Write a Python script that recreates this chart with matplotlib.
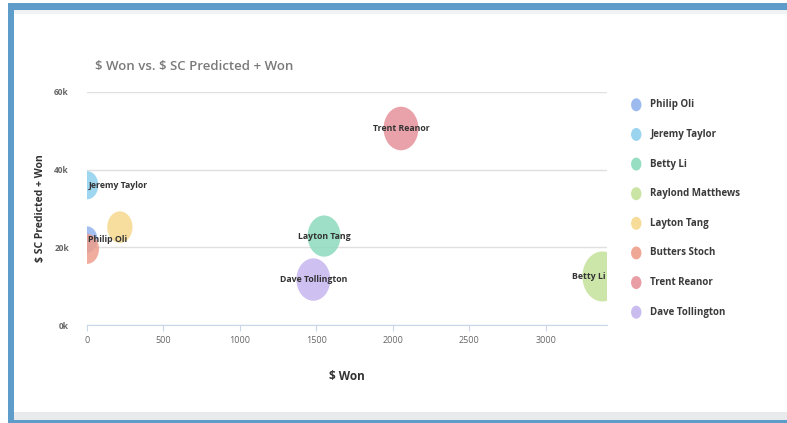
import matplotlib
matplotlib.use('Agg')
import matplotlib.pyplot as plt
import matplotlib.patches as mpatches
from matplotlib.path import Path
from matplotlib.transforms import Affine2D
import numpy as np

# data
names = ['Philip Oli', 'Jeremy Taylor', 'Betty Li', 'Raylond Matthews',
         'Layton Tang', 'Butters Stoch', 'Trent Reanor', 'Dave Tollington']
won = [0, 0, 1550, 3370, 215, 0, 2053, 1480]
predicted_won = [22000, 36000, 22900, 12500, 25200, 19600, 50600, 11700]
deal_size = [7, 8, 17, 25, 10, 9, 19, 18]
# the data labels as they appear on the bubbles
point_labels = ['Philip Oli', 'Jeremy Taylor', 'Layton Tang', 'Betty Li',
                '', '', 'Trent Reanor', 'Dave Tollington']
colors = ['#93b3ee', '#8fd0ee', '#8cdbbd', '#c4e199',
          '#f6d98d', '#ee9e8b', '#e7929b', '#c6b5ef']

x_ticks = [0, 500, 1000, 1500, 2000, 2500, 3000]
y_ticks = [0, 20000, 40000, 60000]
y_tick_labels = ['0k', '20k', '40k', '60k']

plt.rcParams['font.family'] = ['Open Sans', 'DejaVu Sans']

W, H = 787, 423
fig = plt.figure(figsize=(W / 100, H / 100), dpi=100)


def px_rect(x0, y0, x1, y1, color):
    # rectangle given in pixel coords measured from the top left
    fig.patches.append(mpatches.Rectangle((x0 / W, 1 - y1 / H), (x1 - x0) / W, (y1 - y0) / H,
                                          transform=fig.transFigure, color=color, lw=0, zorder=0))


# screenshot frame
px_rect(8, 3, W, 10, '#5e9cc9')
px_rect(14, 10, W, 14, '#f0f2f4')
px_rect(8, 3, 14, H, '#5e9cc9')
px_rect(14, 412, W, 420, '#e8eaec')
px_rect(8, 420, W, H, '#5e9cc9')

ax = fig.add_axes([87 / W, 1 - 325 / H, 520 / W, 233 / H])
ax.set_facecolor('none')

# vertically stretched ellipse marker
circle = Path.unit_circle()
ellipse = Path(Affine2D().scale(0.8, 1.0).transform(circle.vertices), circle.codes)

sizes = np.array(deal_size) * 100 * 0.72 ** 2
ax.scatter(won, predicted_won, s=sizes, c=colors, marker=ellipse, alpha=0.85,
           linewidths=0, zorder=3)

x_max = 3400
for xv, yv, lab in zip(won, predicted_won, point_labels):
    if not lab:
        continue
    if xv < 100:
        ax.text(xv + 8, yv, lab, ha='left', va='center', fontsize=6.3,
                fontweight='bold', color='#333333', zorder=4)
    elif xv > x_max - 150:
        ax.text(x_max - 8, yv, lab, ha='right', va='center', fontsize=6.3,
                fontweight='bold', color='#333333', zorder=4)
    else:
        ax.text(xv, yv, lab, ha='center', va='center', fontsize=6.3,
                fontweight='bold', color='#333333', zorder=4)

ax.set_xlim(0, x_max)
ax.set_ylim(0, 60000)
ax.set_xticks(x_ticks)
ax.set_xticklabels([str(t) for t in x_ticks], fontsize=6.5, color='#666666')
ax.set_yticks(y_ticks)
ax.set_yticklabels(y_tick_labels, fontsize=6, color='#666666', fontweight='bold')
ax.tick_params(axis='x', length=4, color='#ccd6eb', pad=4)
ax.tick_params(axis='y', length=0, pad=13)
for s in ['top', 'right', 'left']:
    ax.spines[s].set_visible(False)
ax.spines['bottom'].set_color('#ccd6eb')
ax.yaxis.grid(True, color='#e0e0e0', lw=1)
ax.set_axisbelow(True)

ax.set_xlabel('\\$ Won', fontsize=8.5, fontweight='bold', color='#333333', labelpad=18)
ax.set_ylabel('\\$ SC Predicted + Won', fontsize=7.5, fontweight='bold', color='#333333', labelpad=6)

fig.text(95 / W, 1 - 66 / H, '\\$ Won vs. \\$ SC Predicted + Won', fontsize=9.5,
         color='#7a7a7a', va='center', ha='left', fontweight='semibold')

# legend drawn as its own little axes
lax = fig.add_axes([625 / W, 1 - 327 / H, 150 / W, 237 / H])
lax.set_xlim(0, 1)
lax.set_ylim(len(names) - 0.5, -0.5)
lax.axis('off')
pos = np.arange(len(names))
lax.scatter(np.full(len(names), 0.075), pos, s=(13 * 0.72) ** 2, c=colors,
            marker=ellipse, linewidths=0, alpha=0.9)
for p, n in zip(pos, names):
    lax.text(0.17, p, n, ha='left', va='center', fontsize=7, fontweight='bold', color='#3a3a3a')

fig.savefig('out.png', dpi=100)
